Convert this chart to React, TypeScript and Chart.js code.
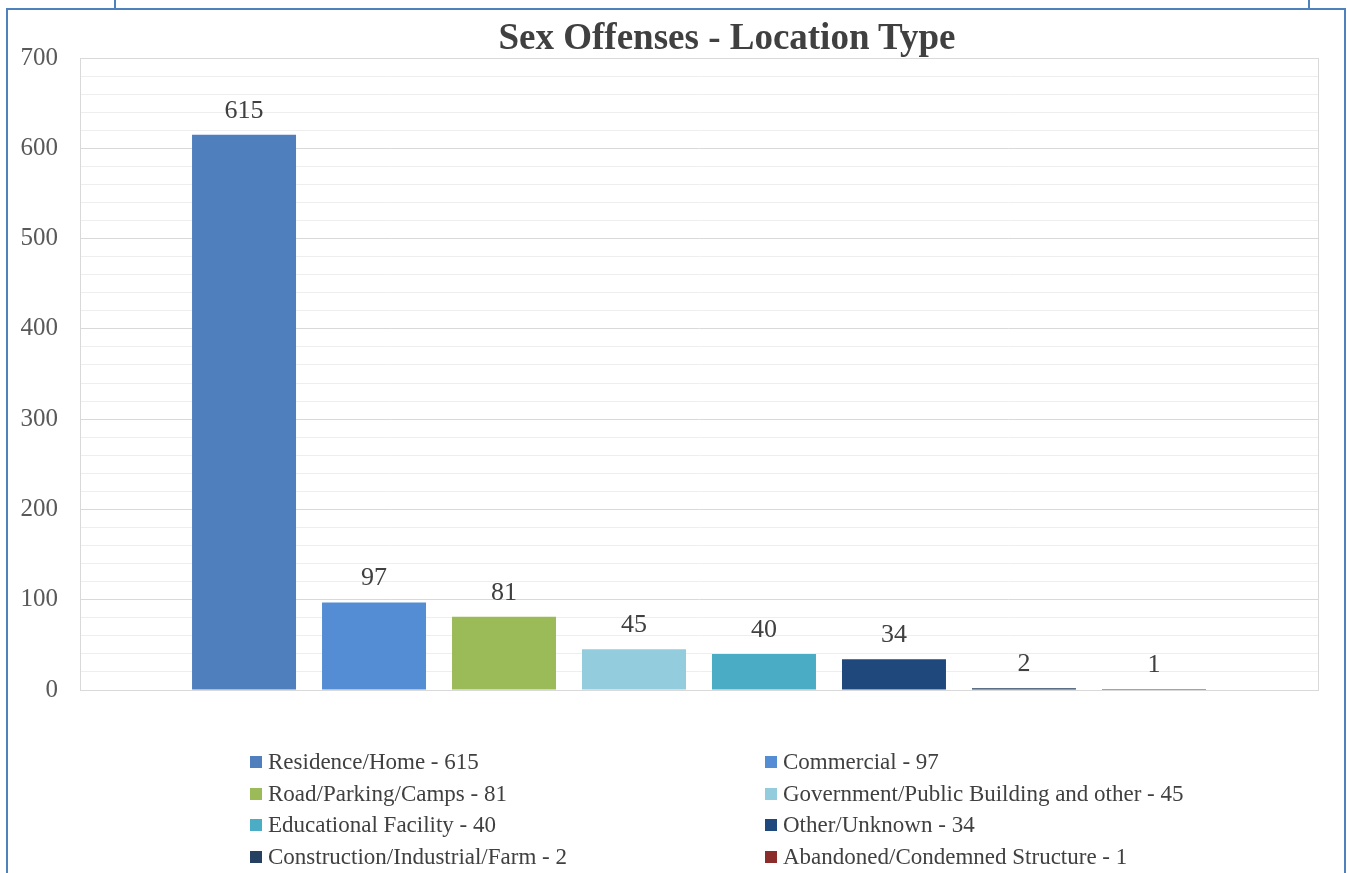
import React, { useEffect, useRef } from "react";
import { Chart, registerables } from "chart.js";

Chart.register(...registerables);

const TITLE = "Sex Offenses - Location Type";
const seriesNames = [
  "Residence/Home",
  "Commercial",
  "Road/Parking/Camps",
  "Government/Public Building and other",
  "Educational Facility",
  "Other/Unknown",
  "Construction/Industrial/Farm",
  "Abandoned/Condemned Structure",
];
const seriesValues = [615, 97, 81, 45, 40, 34, 2, 1];
const seriesColors = [
  "#4f7fbd",
  "#548dd4",
  "#9bbb59",
  "#93cddd",
  "#4bacc6",
  "#1f497d",
  "#254061",
  "#8b2e2b",
];
const Y_MIN = 0;
const Y_MAX = 700;
const Y_STEP = 20;
const Y_LABEL_STEP = 100;

const FONT = "'Liberation Serif', 'Times New Roman', serif";

const boxPlugin = {
  id: "plotBox",
  afterDraw(chart: any) {
    const { ctx, chartArea } = chart;
    ctx.save();
    ctx.strokeStyle = "#d9d9d9";
    ctx.lineWidth = 1;
    ctx.strokeRect(
      Math.round(chartArea.left) + 0.5,
      Math.round(chartArea.top) + 0.5,
      Math.round(chartArea.right - chartArea.left),
      Math.round(chartArea.bottom - chartArea.top)
    );
    ctx.restore();
  },
};

const labelPlugin = {
  id: "barLabels",
  afterDatasetsDraw(chart: any) {
    const { ctx } = chart;
    ctx.save();
    ctx.font = `26px ${FONT}`;
    ctx.fillStyle = "#404040";
    ctx.textAlign = "center";
    ctx.textBaseline = "alphabetic";
    chart.data.datasets.forEach((ds: any, i: number) => {
      const meta = chart.getDatasetMeta(i);
      const el = meta.data[0];
      if (!el) return;
      ctx.fillText(String(ds.data[0]), el.x, el.y - 17);
    });
    ctx.restore();
  },
};

function ChartCanvas() {
  const ref = useRef<HTMLCanvasElement>(null);
  useEffect(() => {
    if (!ref.current) return;
    const chart = new Chart(ref.current, {
      type: "bar",
      data: {
        labels: [""],
        datasets: seriesNames.map((name, i) => ({
          label: `${name} - ${seriesValues[i]}`,
          data: [seriesValues[i]],
          backgroundColor: seriesColors[i],
          borderWidth: 0,
          categoryPercentage: 0.84,
          barPercentage: 0.8,
        })),
      },
      options: {
        responsive: false,
        animation: false,
        maintainAspectRatio: false,
        layout: { padding: { left: 0, right: 29, top: 58, bottom: 183 } },
        plugins: {
          legend: { display: false },
          title: { display: false },
          tooltip: { enabled: false },
        },
        scales: {
          x: { display: false },
          y: {
            min: Y_MIN,
            max: Y_MAX,
            afterFit(scale: any) {
              scale.width = 80;
            },
            ticks: {
              stepSize: Y_STEP,
              autoSkip: false,
              padding: 22,
              color: "#595959",
              font: { family: FONT, size: 25 },
              callback: (v: any) => (Number(v) % Y_LABEL_STEP === 0 ? String(v) : ""),
            },
            grid: {
              drawTicks: false,
              color: (c: any) =>
                c.tick && c.tick.value % Y_LABEL_STEP === 0 ? "#d9d9d9" : "#eeeeee",
              lineWidth: 1,
            },
            border: { display: true, color: "#d9d9d9" },
          },
        },
      },
      plugins: [boxPlugin, labelPlugin],
    });
    return () => chart.destroy();
  }, []);
  return (
    <canvas
      ref={ref}
      width={1347}
      height={873}
      style={{ position: "absolute", left: 0, top: 0, width: 1347, height: 873 }}
    />
  );
}

export default function App() {
  const legendLeft = seriesNames.map((_, i) => i).filter((i) => i % 2 === 0);
  const legendRight = seriesNames.map((_, i) => i).filter((i) => i % 2 === 1);
  const item = (i: number) => (
    <div
      key={i}
      style={{ display: "flex", alignItems: "center", height: 31.7, whiteSpace: "nowrap" }}
    >
      <span
        style={{
          display: "inline-block",
          width: 12,
          height: 12,
          background: seriesColors[i],
          marginRight: 6,
        }}
      />
      <span>{`${seriesNames[i]} - ${seriesValues[i]}`}</span>
    </div>
  );
  return (
    <div
      style={{
        position: "absolute",
        left: 0,
        top: 0,
        width: 1347,
        height: 873,
        background: "#fff",
        overflow: "hidden",
        fontFamily: FONT,
      }}
    >
      <div
        style={{
          position: "absolute",
          left: 114,
          top: -12,
          width: 1192,
          height: 18,
          border: "2px solid #4f81bd",
        }}
      />
      <div
        style={{
          position: "absolute",
          left: 6,
          top: 8,
          width: 1336,
          height: 900,
          border: "2px solid #4f81bd",
        }}
      />
      <ChartCanvas />
      <div
        style={{
          position: "absolute",
          left: 377,
          width: 700,
          top: 14,
          textAlign: "center",
          fontSize: 37,
          lineHeight: "46px",
          fontWeight: "bold",
          color: "#404040",
        }}
      >
        {TITLE}
      </div>
      <div
        style={{
          position: "absolute",
          left: 250,
          top: 746,
          fontSize: 23,
          color: "#404040",
        }}
      >
        {legendLeft.map(item)}
      </div>
      <div
        style={{
          position: "absolute",
          left: 765,
          top: 746,
          fontSize: 23,
          color: "#404040",
        }}
      >
        {legendRight.map(item)}
      </div>
    </div>
  );
}
